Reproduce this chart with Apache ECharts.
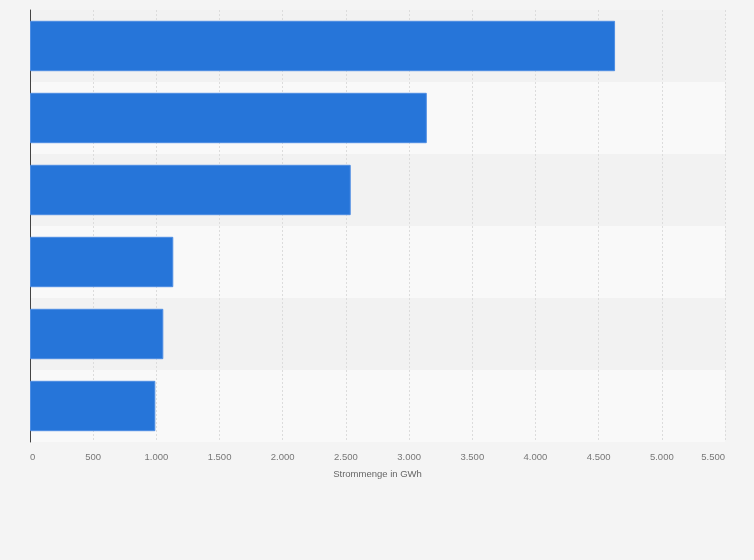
<!DOCTYPE html>
<html><head><meta charset="utf-8">
<script src="https://cdn.jsdelivr.net/npm/echarts@6/dist/echarts.min.js"></script>
<style>html,body{margin:0;padding:0;background:#f4f4f4;}#c{width:754px;height:560px;}</style>
</head><body><div id="c"></div>
<script>
var categories = ["Kategorie 1","Kategorie 2","Kategorie 3","Kategorie 4","Kategorie 5","Kategorie 6"];
var values = [4630, 3140, 2538, 1134, 1055, 992];
var axisName = "Strommenge in GWh";

var chart = echarts.init(document.getElementById('c'));
chart.setOption({
  backgroundColor: '#f4f4f4',
  animation: false,
  grid: {left: 30, right: 29, top: 10, bottom: 118, containLabel: false},
  xAxis: {
    type: 'value', min: 0, max: 5500, interval: 500,
    name: axisName, nameLocation: 'middle', nameGap: 27,
    nameTextStyle: {color: '#666', fontSize: 9.5, fontFamily: 'Liberation Sans'},
    axisLine: {show: false}, axisTick: {show: false},
    axisLabel: {
      color: '#777', fontSize: 9.5, fontFamily: 'Liberation Sans', margin: 10,
      alignMinLabel: 'left', alignMaxLabel: 'right',
      formatter: function (v) { return String(v).replace(/\B(?=(\d{3})+(?!\d))/g, '.'); }
    },
    splitLine: {show: true, lineStyle: {color: '#dcdcdc', type: [2, 2], width: 1}}
  },
  yAxis: {
    type: 'category', data: categories, inverse: true,
    axisLine: {show: true, lineStyle: {color: '#444', width: 1}},
    axisTick: {show: false}, axisLabel: {show: false},
    splitArea: {show: true, areaStyle: {color: ['#f2f2f2', '#f9f9f9']}}
  },
  series: [{
    type: 'bar', data: values, barCategoryGap: '30%',
    itemStyle: {color: '#2675d9', borderColor: '#4d8de3', borderWidth: 1}
  }]
});
</script></body></html>
